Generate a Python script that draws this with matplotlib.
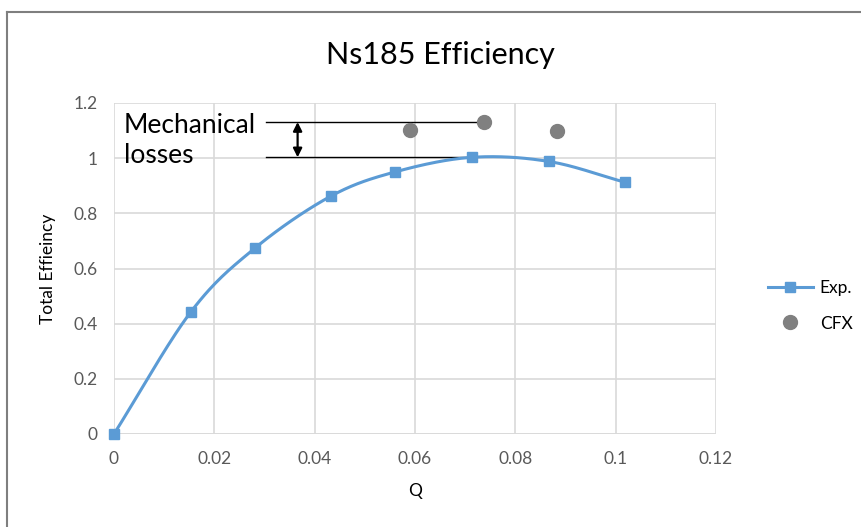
import numpy as np
import matplotlib
matplotlib.use('Agg')
import matplotlib.pyplot as plt
from matplotlib.lines import Line2D

plt.rcParams.update({'font.family': ['Lato', 'DejaVu Sans']})

# measured data (Exp.) and simulation (CFX)
q_exp = [0.0, 0.0153, 0.0281, 0.0432, 0.0560, 0.0713, 0.0867, 0.1018]
eff_exp = [0.0, 0.442, 0.674, 0.862, 0.950, 1.003, 0.988, 0.913]
q_cfx = [0.0590, 0.0737, 0.0884]
eff_cfx = [1.102, 1.131, 1.099]

x_ticks = [0, 0.02, 0.04, 0.06, 0.08, 0.1, 0.12]
x_tick_labels = ['0', '0.02', '0.04', '0.06', '0.08', '0.1', '0.12']
y_ticks = [0, 0.2, 0.4, 0.6, 0.8, 1.0, 1.2]
y_tick_labels = ['0', '0.2', '0.4', '0.6', '0.8', '1', '1.2']

BLUE = '#5b9bd5'
GREY = '#808080'
TXT = '#595959'


def smooth(x, y, n=30):
    # Catmull-Rom style smoothing like a spreadsheet "smoothed line"
    x = np.asarray(x, float)
    y = np.asarray(y, float)
    px = np.concatenate([[2 * x[0] - x[1]], x, [2 * x[-1] - x[-2]]])
    py = np.concatenate([[2 * y[0] - y[1]], y, [2 * y[-1] - y[-2]]])
    t = np.linspace(0, 1, n)
    xs, ys = [], []
    for i in range(1, len(px) - 2):
        for arr, out in ((px, xs), (py, ys)):
            p0, p1, p2, p3 = arr[i - 1:i + 3]
            out.append(0.5 * ((2 * p1) + (-p0 + p2) * t
                              + (2 * p0 - 5 * p1 + 4 * p2 - p3) * t ** 2
                              + (-p0 + 3 * p1 - 3 * p2 + p3) * t ** 3))
    return np.concatenate(xs), np.concatenate(ys)


fig = plt.figure(figsize=(8.62, 5.27), dpi=100)
ax = fig.add_axes([114 / 862, 1 - 434 / 527, 602 / 862, 331 / 527])

sx, sy = smooth(q_exp, eff_exp)
ax.plot(sx, sy, color=BLUE, lw=2.2, zorder=3, clip_on=False)
ax.plot(q_exp, eff_exp, ls='none', marker='s', ms=7, color=BLUE, zorder=4,
        clip_on=False)
ax.plot(q_cfx, eff_cfx, ls='none', marker='o', ms=10, color=GREY, zorder=4,
        clip_on=False)

# mechanical losses annotation
ax.plot([0.0302, q_cfx[1]], [eff_cfx[1], eff_cfx[1]], color='black', lw=1, zorder=2)
ax.plot([0.0302, q_exp[5]], [eff_exp[5], eff_exp[5]], color='black', lw=1, zorder=2)
ax.annotate('', xy=(0.0366, eff_cfx[1]), xytext=(0.0366, eff_exp[5]),
            arrowprops=dict(arrowstyle='<|-|>', color='black', lw=1.6,
                            mutation_scale=13, shrinkA=0, shrinkB=0))
ax.text(0.002, 1.065, 'Mechanical\nlosses', fontsize=19, ha='left', va='center',
        linespacing=1.25, color='black', zorder=5)

ax.set_xlim(0, 0.12)
ax.set_ylim(0, 1.2)
ax.set_xticks(x_ticks)
ax.set_xticklabels(x_tick_labels)
ax.set_yticks(y_ticks)
ax.set_yticklabels(y_tick_labels)
ax.tick_params(length=0, labelsize=12.5, labelcolor=TXT, pad=12)
ax.grid(color='#d9d9d9', lw=1.2)
ax.set_axisbelow(True)
for s in ax.spines.values():
    s.set_visible(False)
ax.axhline(0, color='#d9d9d9', lw=1.2, zorder=1)

ax.set_xlabel('Q', fontsize=12.5, color='black', labelpad=12)
ax.set_ylabel('Total Effieincy', fontsize=12.5, color='black', labelpad=12)
fig.text(440 / 862, 1 - 55 / 527, 'Ns185 Efficiency', fontsize=22,
         ha='center', va='center')

handles = [Line2D([], [], color=BLUE, lw=2.2, marker='s', ms=7),
           Line2D([], [], ls='none', marker='o', ms=10, color=GREY)]
fig.legend(handles, ['Exp.', 'CFX'], loc='center left',
           bbox_to_anchor=(752 / 862, 1 - 306 / 527), frameon=False,
           fontsize=12.5, handlelength=2.6, labelspacing=1.1, handletextpad=0.4)

# chart border
fig.add_artist(Line2D([7 / 862, 1], [1 - 12 / 527] * 2, color='#7f7f7f', lw=1.5))
fig.add_artist(Line2D([7 / 862] * 2, [0, 1 - 12 / 527], color='#7f7f7f', lw=1.5))

fig.savefig('out.png', dpi=100)
